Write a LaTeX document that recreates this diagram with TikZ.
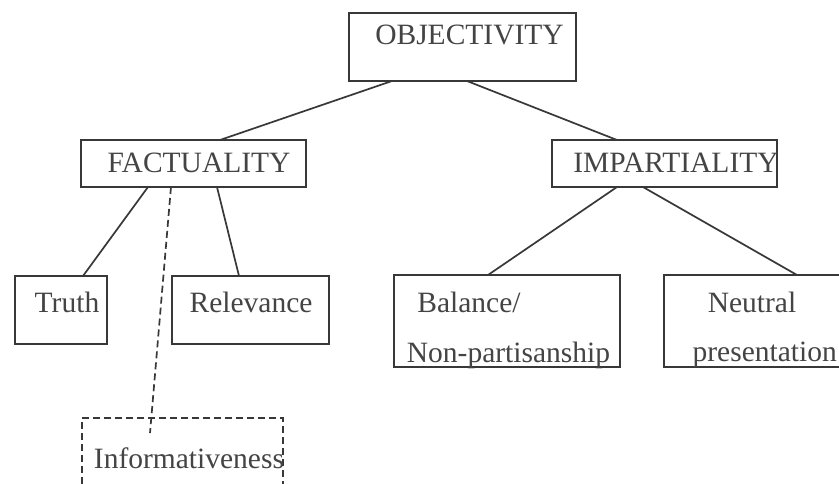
\documentclass[tikz,border=0pt]{standalone}
\usepackage{fontspec}
\setmainfont{Liberation Serif}
\definecolor{linec}{HTML}{383838}
\definecolor{textc}{HTML}{444444}
\tikzset{
  box/.style={draw=linec, line width=1.7pt, rectangle, inner sep=0pt, outer sep=0pt},
  dbox/.style={box, dash pattern=on 7pt off 4pt},
  lbl/.style={text=textc, inner sep=0pt, font=\fontsize{29.5}{34}\selectfont},
  conn/.style={draw=linec, line width=1.7pt},
  dconn/.style={conn, dash pattern=on 7pt off 4pt},
}
\begin{document}
\begin{tikzpicture}[x=1pt,y=-1pt]
\useasboundingbox (0,0) rectangle (839,484);
\fill[white] (0,0) rectangle (839,484);
\clip (0,0) rectangle (839,484);
% boxes
\node[box, minimum width=227pt, minimum height=68pt] (obj) at (462.5,47) {};
\node[box, minimum width=225pt, minimum height=47pt] (fact) at (193.5,163.5) {};
\node[box, minimum width=225pt, minimum height=47pt] (imp) at (664.5,163.5) {};
\node[box, minimum width=92pt, minimum height=68pt] (truth) at (61,310) {};
\node[box, minimum width=157pt, minimum height=68pt] (rel) at (250.5,310) {};
\node[box, minimum width=226pt, minimum height=92pt] (bal) at (507,321) {};
\node[box, minimum width=186pt, minimum height=92pt] (neu) at (757,321) {};
\node[dbox, minimum width=201pt, minimum height=100pt] (info) at (182.5,468) {};
% labels
\node[lbl] (tobj) at (469.5,35) {OBJECTIVITY};
\node[lbl] (tfact) at (199,163) {FACTUALITY};
\node[lbl] (timp) at (676,163) {IMPARTIALITY};
\node[lbl] (ttruth) at (67,302) {Truth};
\node[lbl] (trel) at (251,302) {Relevance};
\node[lbl] (tbal1) at (469,302) {Balance/};
\node[lbl] (tbal2) at (508.5,355) {Non-partisanship};
\node[lbl] (tneu1) at (752,302) {Neutral};
\node[lbl, anchor=east] (tneu2) at (837,355) {presentation};
\node[lbl] (tinfo) at (189,458) {Informativeness};
% connectors
\draw[conn] ([xshift=-70.5pt]obj.south) -- ([xshift=26.5pt]fact.north);
\draw[conn] ([xshift=4.5pt]obj.south) -- ([xshift=-47.5pt]imp.north);
\draw[conn] ([xshift=-45.5pt]fact.south) -- ([xshift=22pt]truth.north);
\draw[conn] ([xshift=23.5pt]fact.south) -- ([xshift=-11.5pt]rel.north);
\draw[dconn] ([xshift=-22.5pt]fact.south) -- ([xshift=-32.5pt,yshift=-15pt]info.north);
\draw[conn] ([xshift=-47.5pt]imp.south) -- ([xshift=-19pt]bal.north);
\draw[conn] ([xshift=-21.5pt]imp.south) -- ([xshift=40pt]neu.north);
\end{tikzpicture}
\end{document}
